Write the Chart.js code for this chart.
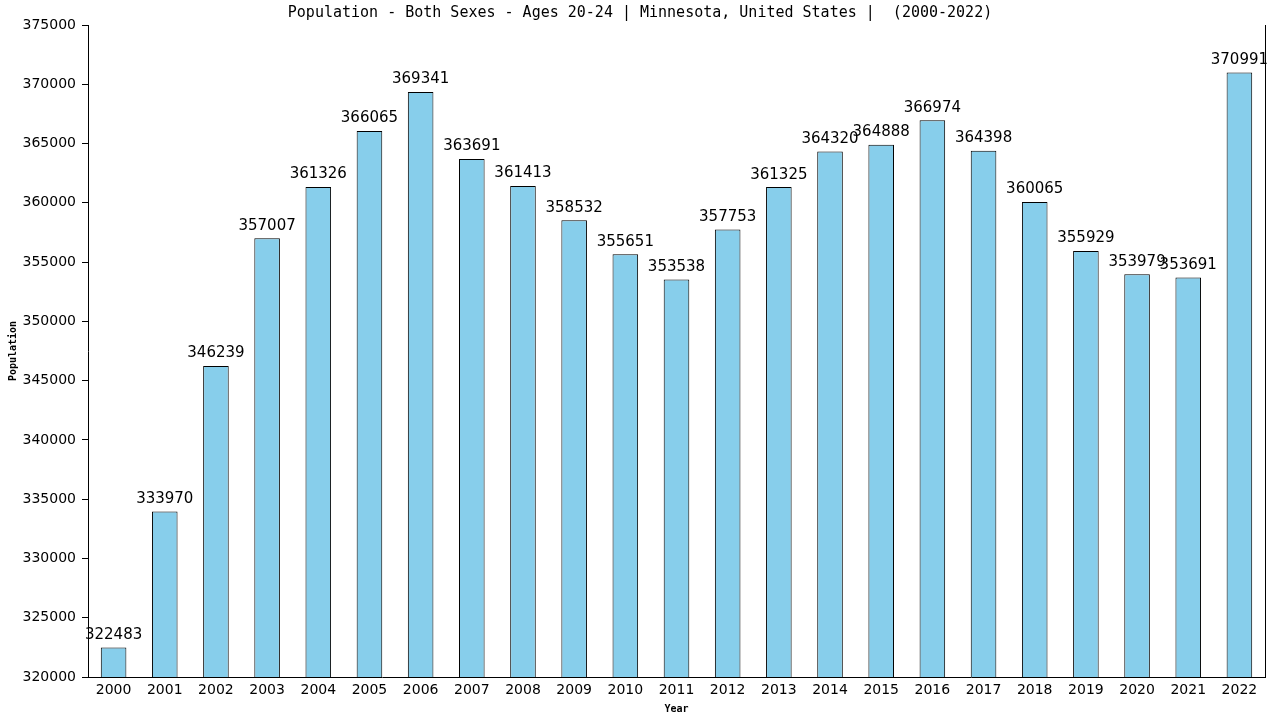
<!DOCTYPE html>
<html>
<head>
<meta charset="utf-8">
<script src="https://cdn.jsdelivr.net/npm/chart.js@4/dist/chart.umd.min.js"></script>
<style>
  html, body { margin: 0; padding: 0; background: #fff; }
  #wrap { width: 1280px; height: 720px; }
</style>
</head>
<body>
<div id="wrap"><canvas id="popChart" width="1280" height="720"></canvas></div>
<script>
const years = ['2000', '2001', '2002', '2003', '2004', '2005', '2006', '2007', '2008', '2009', '2010', '2011',
    '2012', '2013', '2014', '2015', '2016', '2017', '2018', '2019', '2020', '2021', '2022'];
const population = [322483, 333970, 346239, 357007, 361326, 366065, 369341, 363691, 361413, 358532, 355651, 353538,
    357753, 361325, 364320, 364888, 366974, 364398, 360065, 355929, 353979, 353691, 370991];
const yMin = 320000;
const yMax = 375000;
const yStep = 5000;
const titleText = 'Population - Both Sexes - Ages 20-24 | Minnesota, United States |  (2000-2022)';

// title, value labels and right border line
const extras = {
    id: 'extras',
    afterDatasetsDraw(chart) {
        const ctx = chart.ctx;
        const area = chart.chartArea;
        ctx.save();
        ctx.fillStyle = '#000';
        ctx.font = '15px "DejaVu Sans Mono"';
        ctx.textAlign = 'center';
        ctx.textBaseline = 'middle';
        ctx.fillText(titleText, 640, 13);

        ctx.font = '15px "DejaVu Sans"';
        ctx.textBaseline = 'bottom';
        chart.getDatasetMeta(0).data.forEach((bar, i) => {
            ctx.fillText(String(population[i]), bar.x, bar.y - 5);
        });

        ctx.strokeStyle = '#000';
        ctx.lineWidth = 1;
        ctx.beginPath();
        ctx.moveTo(Math.round(area.right) + 0.5, area.top);
        ctx.lineTo(Math.round(area.right) + 0.5, area.bottom);
        ctx.stroke();
        ctx.restore();
    }
};

const ctx = document.getElementById('popChart').getContext('2d');
new Chart(ctx, {
    type: 'bar',
    data: {
        labels: years,
        datasets: [{
            data: population,
            backgroundColor: '#87CEEB',
            borderColor: '#000',
            borderWidth: 1,
            barPercentage: 0.5,
            categoryPercentage: 1.0
        }]
    },
    options: {
        responsive: false,
        animation: false,
        layout: { padding: { top: 25, right: 15, left: 0, bottom: 0 } },
        plugins: {
            legend: { display: false },
            tooltip: { enabled: false }
        },
        scales: {
            x: {
                grid: { display: false, drawTicks: false },
                border: { display: true, color: '#000' },
                ticks: { color: '#000', font: { family: 'DejaVu Sans', size: 14 }, padding: 5, maxRotation: 0 },
                title: {
                    display: true, text: 'Year', color: '#000',
                    font: { family: 'DejaVu Sans Mono', size: 10, weight: 'bold' },
                    padding: { top: 2, bottom: 5 }
                },
                afterFit(scale) { scale.height = 43; }
            },
            y: {
                min: yMin,
                max: yMax,
                grid: { drawOnChartArea: false, color: '#000', tickLength: 6 },
                border: { display: true, color: '#000' },
                ticks: {
                    stepSize: yStep, color: '#000', padding: 6,
                    font: { family: 'DejaVu Sans', size: 14 },
                    callback: v => String(v)
                },
                title: {
                    display: true, text: 'Population', color: '#000',
                    font: { family: 'DejaVu Sans Mono', size: 10, weight: 'bold' },
                    padding: { top: 7, bottom: 0 }
                },
                afterFit(scale) { scale.width = 88; }
            }
        }
    },
    plugins: [extras]
});
</script>
</body>
</html>
